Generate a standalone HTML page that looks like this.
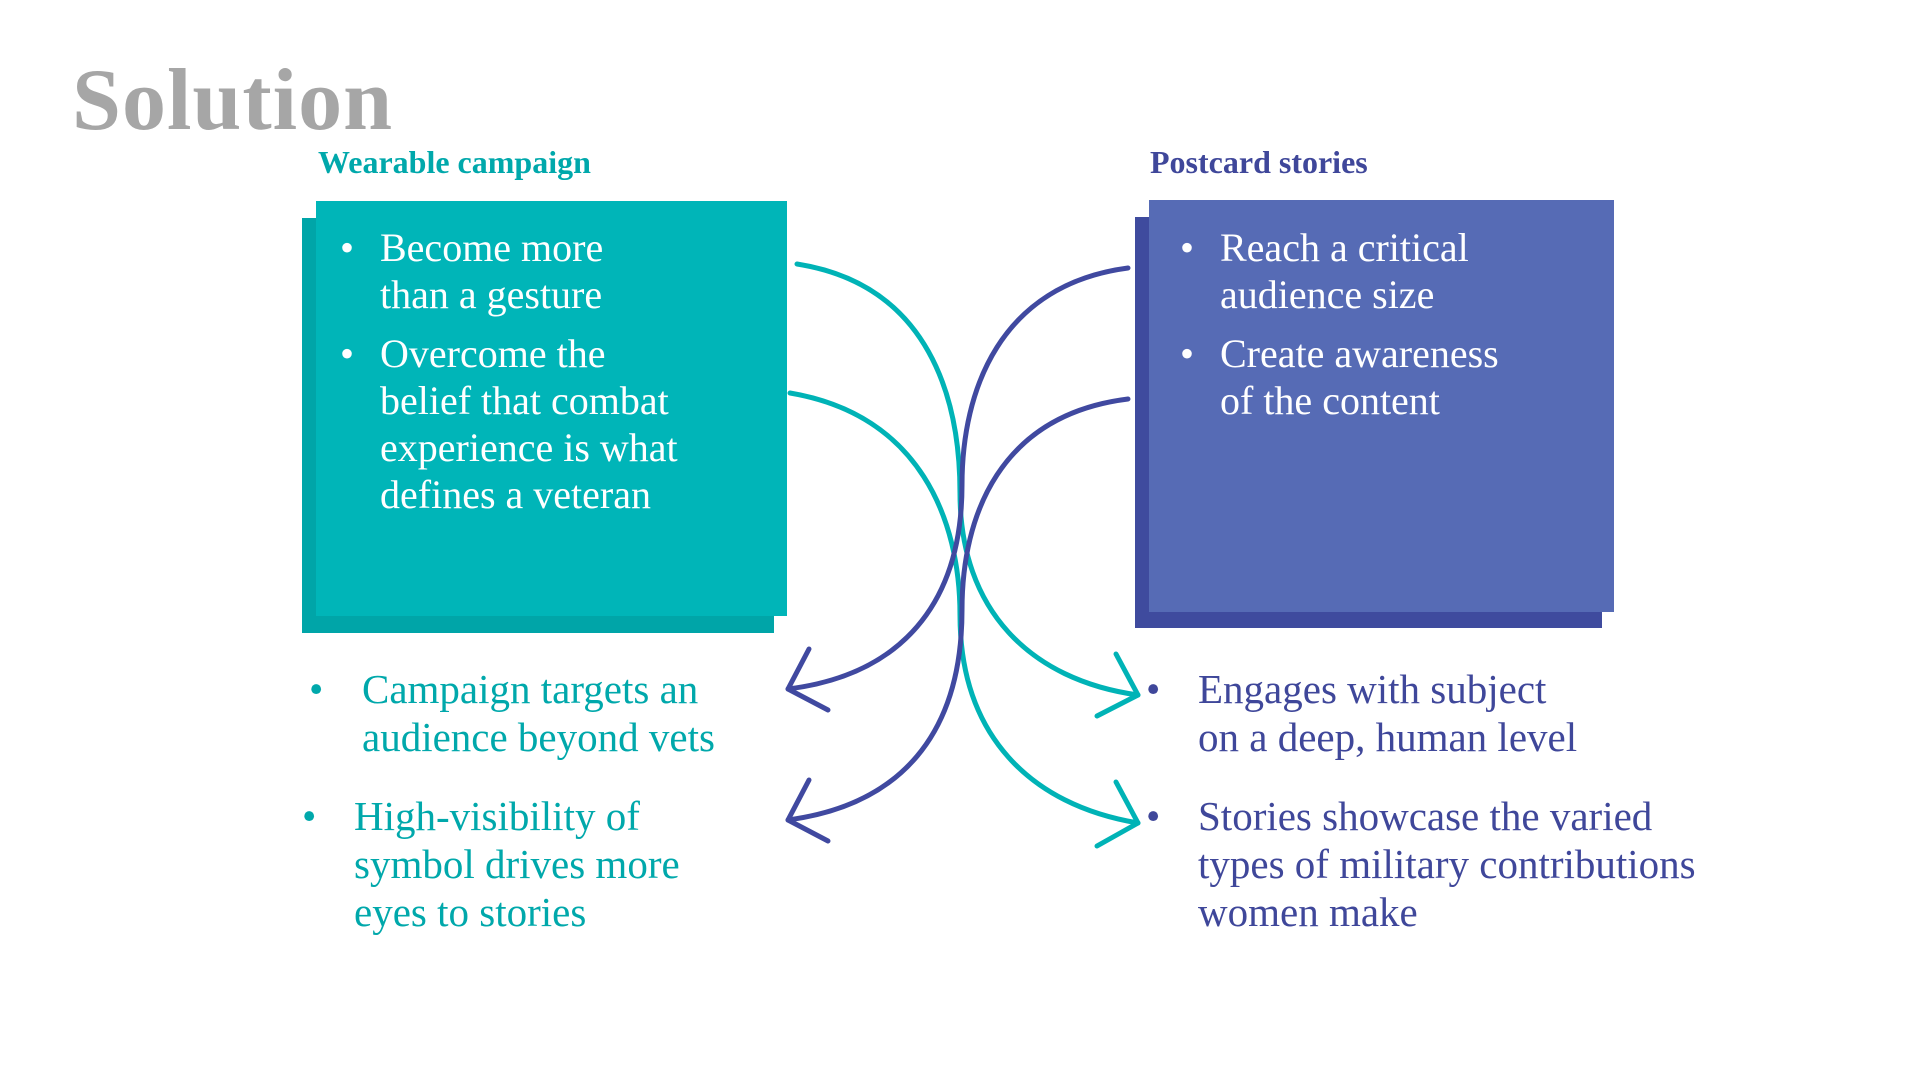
<!DOCTYPE html>
<html><head><meta charset="utf-8"><style>
body{margin:0;width:1920px;height:1080px;background:#fff;position:relative;overflow:hidden;font-family:"Liberation Serif",serif}
.a{position:absolute;white-space:nowrap}
.r{position:absolute}
.t{font-size:40px;color:#fff;line-height:47px}
.tl{font-size:41px;line-height:48px}
</style></head><body>
<div class="a" style="left:72px;top:50px;font-size:88px;font-weight:bold;color:#a6a6a6;letter-spacing:1px">Solution</div>
<div class="a" style="left:318px;top:144px;font-size:32px;font-weight:bold;color:#00a8ab">Wearable campaign</div>
<div class="a" style="left:1150px;top:144px;font-size:32px;font-weight:bold;color:#3f479a">Postcard stories</div>

<div class="r" style="left:302px;top:218px;width:472px;height:415px;background:#00a5a8"></div>
<div class="r" style="left:316px;top:201px;width:471px;height:415px;background:#00b5b8"></div>
<div class="r" style="left:1135px;top:217px;width:467px;height:411px;background:#3f4b9e"></div>
<div class="r" style="left:1149px;top:200px;width:465px;height:412px;background:#566bb5"></div>

<div class="a t" style="left:340px;top:224px">•</div>
<div class="a t" style="left:380px;top:224px">Become more<br>than a gesture</div>
<div class="a t" style="left:340px;top:330px">•</div>
<div class="a t" style="left:380px;top:330px">Overcome the<br>belief that combat<br>experience is what<br>defines a veteran</div>

<div class="a t" style="left:1180px;top:224px">•</div>
<div class="a t" style="left:1220px;top:224px">Reach a critical<br>audience size</div>
<div class="a t" style="left:1180px;top:330px">•</div>
<div class="a t" style="left:1220px;top:330px">Create awareness<br>of the content</div>

<div class="a tl" style="left:309px;top:665px;color:#00a8ab">•</div>
<div class="a tl" style="left:362px;top:665px;color:#00a8ab">Campaign targets an<br>audience beyond vets</div>
<div class="a tl" style="left:302px;top:792px;color:#00a8ab">•</div>
<div class="a tl" style="left:354px;top:792px;color:#00a8ab">High-visibility of<br>symbol drives more<br>eyes to stories</div>

<div class="a tl" style="left:1146px;top:665px;color:#3f479a">•</div>
<div class="a tl" style="left:1198px;top:665px;color:#3f479a">Engages with subject<br>on a deep, human level</div>
<div class="a tl" style="left:1146px;top:792px;color:#3f479a">•</div>
<div class="a tl" style="left:1198px;top:792px;color:#3f479a">Stories showcase the varied<br>types of military contributions<br>women make</div>

<svg class="r" style="left:0;top:0" width="1920" height="1080" fill="none" stroke-width="5" stroke-linecap="round" stroke-linejoin="round">
<g stroke="#00b3b6">
<path d="M797,264 C930,285 960,400 960,493 C960,610 1030,680 1138,695"/>
<path d="M790,393 C920,415 960,520 960,615 C960,735 1030,805 1138,823"/>
<path d="M1116,654 L1138,695 L1097,716"/>
<path d="M1116,782 L1138,823 L1097,846"/>
</g>
<g stroke="#4049a0">
<path d="M1128,268 C1000,285 962,390 962,485 C962,605 900,675 788,689"/>
<path d="M1128,399 C1000,415 962,515 962,610 C962,735 900,805 788,820"/>
<path d="M809,649 L788,689 L828,710"/>
<path d="M809,780 L788,820 L828,841"/>
</g>
</svg>
</body></html>
